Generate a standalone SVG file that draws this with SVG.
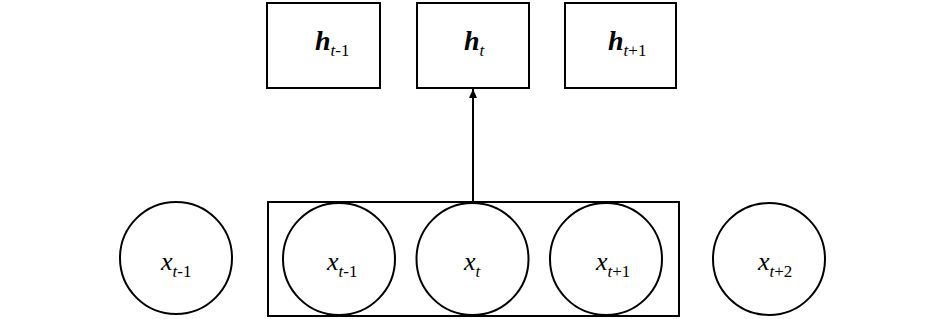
<svg xmlns="http://www.w3.org/2000/svg" width="945" height="319" viewBox="0 0 945 319">
<style>
.b{fill:#fff;stroke:#000;stroke-width:2}
.c{fill:#fff;stroke:#000;stroke-width:2}
text,tspan{font-family:"Liberation Serif","Tinos","DejaVu Serif","Noto Serif",serif}
.h{font-style:italic;font-weight:bold;font-size:28px}
.x{font-style:italic;font-size:26px}
.s{font-style:normal;font-weight:normal;font-size:17px}
.si{font-style:italic;font-weight:normal;font-size:17px}
</style>
<defs>
<marker id="ar" markerWidth="10" markerHeight="10" refX="9" refY="5" orient="auto" markerUnits="userSpaceOnUse" viewBox="0 0 10 10">
<path d="M0,1 L9,5 L0,9 Z" fill="#000"/>
</marker>
</defs>
<g id="window"><rect class="b" x="268" y="202" width="411" height="114"/></g>
<g id="h_tm1"><rect class="b" x="267" y="3" width="113" height="85"/>
<text x="315" y="50"><tspan class="h">h</tspan><tspan class="si" dy="6">t</tspan><tspan class="s">-1</tspan></text></g>
<g id="h_t"><rect class="b" x="417" y="3" width="112" height="85"/>
<text x="464" y="50"><tspan class="h">h</tspan><tspan class="si" dy="6">t</tspan></text></g>
<g id="h_tp1"><rect class="b" x="565" y="3" width="111" height="85"/>
<text x="608" y="50"><tspan class="h">h</tspan><tspan class="si" dy="6">t</tspan><tspan class="s">+1</tspan></text></g>
<g id="x1"><circle class="c" cx="176" cy="258" r="56"/>
<text x="161" y="270"><tspan class="x">x</tspan><tspan class="si" dy="7">t</tspan><tspan class="s">-1</tspan></text></g>
<g id="x2"><circle class="c" cx="339" cy="259" r="56"/>
<text x="327" y="270"><tspan class="x">x</tspan><tspan class="si" dy="7">t</tspan><tspan class="s">-1</tspan></text></g>
<g id="x3"><circle class="c" cx="472.5" cy="259" r="56"/>
<text x="464" y="270"><tspan class="x">x</tspan><tspan class="si" dy="7">t</tspan></text></g>
<g id="x4"><circle class="c" cx="606" cy="259" r="56"/>
<text x="596" y="270"><tspan class="x">x</tspan><tspan class="si" dy="7">t</tspan><tspan class="s">+1</tspan></text></g>
<g id="x5"><circle class="c" cx="769" cy="259" r="56"/>
<text x="758" y="270"><tspan class="x">x</tspan><tspan class="si" dy="7">t</tspan><tspan class="s">+2</tspan></text></g>
<g id="connectors">
<line x1="473" y1="203" x2="473" y2="89" stroke="#000" stroke-width="2" marker-end="url(#ar)"/>
</g>
</svg>
